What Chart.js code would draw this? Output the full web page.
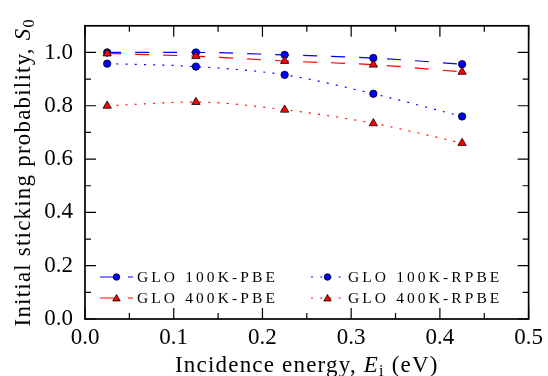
<!DOCTYPE html>
<html>
<head>
<meta charset="utf-8">
<title>Initial sticking probability</title>
<script src="https://cdn.jsdelivr.net/npm/chart.js@4.4.0/dist/chart.umd.min.js"></script>
<style>
    html, body { margin: 0; padding: 0; background: #fff; }
    canvas { display: block; }
</style>
</head>
<body>
<canvas id="stickingChart" width="548" height="376"></canvas>
<script>
// incidence energies (eV) and S0 for each GLO simulation
const energies = [0.025, 0.125, 0.225, 0.325, 0.425];
const glo100kPbe = [1.000, 1.000, 0.991, 0.979, 0.956];
const glo400kPbe = [0.996, 0.986, 0.968, 0.954, 0.927];
const glo100kRpbe = [0.958, 0.947, 0.916, 0.845, 0.760];
const glo400kRpbe = [0.800, 0.814, 0.785, 0.734, 0.660];

const seriesLabels = ['GLO 100K-PBE', 'GLO 400K-PBE', 'GLO 100K-RPBE', 'GLO 400K-RPBE'];
const xTicks = [0.0, 0.1, 0.2, 0.3, 0.4, 0.5];
const yTicks = [0.0, 0.2, 0.4, 0.6, 0.8, 1.0];

const SERIF = 'Liberation Serif';
const BLUE = '#0000ff';
const RED = '#ff0000';
const DASHED = [14, 14];
const DOTTED = [2, 7.2];

Chart.defaults.font.family = SERIF;

function points(values) {
    return energies.map((e, i) => ({ x: e, y: values[i] }));
}

function series(label, values, color, dash, marker, order) {
    return {
        label: label,
        data: points(values),
        borderColor: color,
        borderWidth: 1.2,
        borderDash: dash,
        cubicInterpolationMode: 'monotone',
        pointStyle: marker,
        pointRadius: marker === 'triangle' ? 4.8 : 3.7,
        pointBackgroundColor: color,
        pointBorderColor: '#000',
        pointBorderWidth: 0.8,
        order: order
    };
}

// ticks pointing inwards on all four sides, plus the black frame
const framePlugin = {
    id: 'frame',
    afterDatasetsDraw(chart) {
        const { ctx, chartArea: a, scales: { x, y } } = chart;
        const major = 11, minor = 6;
        ctx.save();
        ctx.strokeStyle = '#000';
        ctx.lineWidth = 1.2;
        ctx.beginPath();
        const vTick = (px, len) => {
            ctx.moveTo(px, a.bottom); ctx.lineTo(px, a.bottom - len);
            ctx.moveTo(px, a.top); ctx.lineTo(px, a.top + len);
        };
        const hTick = (py, len) => {
            ctx.moveTo(a.left, py); ctx.lineTo(a.left + len, py);
            ctx.moveTo(a.right, py); ctx.lineTo(a.right - len, py);
        };
        xTicks.forEach((v, i) => {
            vTick(x.getPixelForValue(v), major);
            if (i > 0) vTick(x.getPixelForValue((v + xTicks[i - 1]) / 2), minor);
        });
        yTicks.forEach((v, i) => {
            hTick(y.getPixelForValue(v), major);
            if (i > 0) hTick(y.getPixelForValue((v + yTicks[i - 1]) / 2), minor);
        });
        ctx.stroke();
        ctx.lineWidth = 1.7;
        ctx.strokeRect(a.left, a.top, a.right - a.left, a.bottom - a.top);
        ctx.restore();
    }
};

function drawMarker(ctx, style, cx, cy, r, fill) {
    ctx.beginPath();
    if (style === 'triangle') {
        for (let k = 0; k < 3; k++) {
            const ang = -Math.PI / 2 + k * 2 * Math.PI / 3;
            const px = cx + r * Math.cos(ang), py = cy + r * Math.sin(ang);
            k === 0 ? ctx.moveTo(px, py) : ctx.lineTo(px, py);
        }
        ctx.closePath();
    } else {
        ctx.arc(cx, cy, r, 0, Math.PI * 2);
    }
    ctx.fillStyle = fill;
    ctx.fill();
    ctx.lineWidth = 0.8;
    ctx.strokeStyle = '#000';
    ctx.stroke();
}

// two-column legend sitting inside the lower part of the plot
const legendPlugin = {
    id: 'insideLegend',
    afterDraw(chart) {
        const { ctx, chartArea: a } = chart;
        const cols = [a.left + 15, a.left + 226];
        const rows = [a.bottom - 42, a.bottom - 21];
        const handle = 33;
        chart.data.datasets.forEach((ds, i) => {
            const x0 = cols[Math.floor(i / 2)];
            const yy = rows[i % 2];
            ctx.save();
            ctx.strokeStyle = ds.borderColor;
            ctx.lineWidth = ds.borderWidth;
            ctx.setLineDash(ds.borderDash);
            ctx.beginPath();
            ctx.moveTo(x0, yy);
            ctx.lineTo(x0 + handle, yy);
            ctx.stroke();
            ctx.setLineDash([]);
            const tri = ds.pointStyle === 'triangle';
            drawMarker(ctx, ds.pointStyle, x0 + handle / 2, yy + (tri ? 0.8 : 0), tri ? 4.3 : 3.3, ds.pointBackgroundColor);
            ctx.fillStyle = '#000';
            ctx.textAlign = 'left';
            ctx.textBaseline = 'alphabetic';
            ctx.font = '15.5px "' + SERIF + '"';
            ctx.letterSpacing = '3.1px';
            ctx.fillText(ds.label, x0 + 37, yy + 5);
            ctx.restore();
        });
    }
};

// draws a run of text pieces with their own fonts, centred on cx
function drawRich(ctx, parts, cx, baseY) {
    let total = 0;
    parts.forEach(p => {
        ctx.font = p.font;
        p.w = ctx.measureText(p.text).width;
        total += p.w;
    });
    let x = cx - total / 2;
    parts.forEach(p => {
        ctx.font = p.font;
        ctx.fillText(p.text, x, baseY + (p.dy || 0));
        x += p.w;
    });
}

const axisTitlePlugin = {
    id: 'axisTitles',
    afterDraw(chart) {
        const { ctx, chartArea: a } = chart;
        const fam = '"' + SERIF + '"';
        const main = '23px ' + fam;
        const ital = 'italic 23px ' + fam;
        const sub = '16px ' + fam;
        ctx.save();
        ctx.fillStyle = '#000';
        ctx.textAlign = 'left';
        ctx.textBaseline = 'alphabetic';
        ctx.letterSpacing = '1.2px';
        drawRich(ctx, [
            { text: 'Incidence energy, ', font: main },
            { text: 'E', font: ital },
            { text: 'i', font: sub, dy: 4 },
            { text: ' (eV)', font: main }
        ], (a.left + a.right) / 2, 372);

        ctx.translate(30, (a.top + a.bottom) / 2);
        ctx.rotate(-Math.PI / 2);
        drawRich(ctx, [
            { text: 'Initial sticking probability, ', font: main },
            { text: 'S', font: ital },
            { text: '0', font: sub, dy: 4 }
        ], 0, 0);
        ctx.restore();
    }
};

new Chart(document.getElementById('stickingChart'), {
    type: 'line',
    data: {
        datasets: [
            series(seriesLabels[0], glo100kPbe, BLUE, DASHED, 'circle', 4),
            series(seriesLabels[1], glo400kPbe, RED, DASHED, 'triangle', 2),
            series(seriesLabels[2], glo100kRpbe, BLUE, DOTTED, 'circle', 3),
            series(seriesLabels[3], glo400kRpbe, RED, DOTTED, 'triangle', 1)
        ]
    },
    options: {
        responsive: false,
        animation: false,
        devicePixelRatio: 1,
        layout: { padding: { left: 0, right: 16, top: 21, bottom: 0 } },
        plugins: {
            legend: { display: false },
            tooltip: { enabled: false }
        },
        scales: {
            x: {
                type: 'linear',
                min: 0,
                max: 0.5,
                grid: { display: false, drawTicks: false },
                border: { display: false },
                afterBuildTicks: s => { s.ticks = xTicks.map(v => ({ value: v })); },
                afterFit: s => { s.height = 57; },
                ticks: {
                    padding: 5,
                    color: '#000',
                    maxRotation: 0,
                    font: { family: SERIF, size: 23 },
                    callback: v => v.toFixed(1)
                }
            },
            y: {
                min: 0,
                max: 1.1,
                grid: { display: false, drawTicks: false },
                border: { display: false },
                afterBuildTicks: s => { s.ticks = yTicks.map(v => ({ value: v })); },
                afterFit: s => { s.width = 85; },
                ticks: {
                    padding: 12,
                    color: '#000',
                    font: { family: SERIF, size: 23 },
                    callback: v => v.toFixed(1)
                }
            }
        }
    },
    plugins: [framePlugin, legendPlugin, axisTitlePlugin]
});
</script>
</body>
</html>
